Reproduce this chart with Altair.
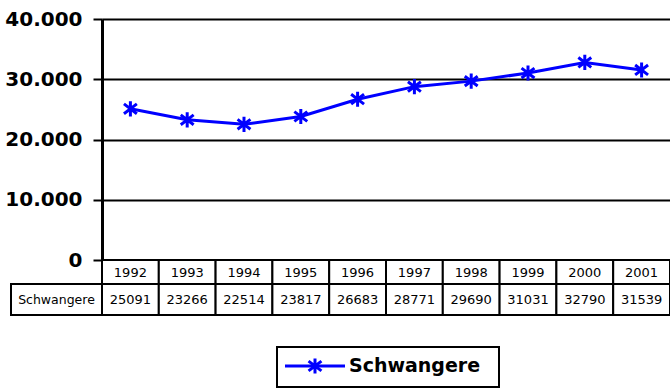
import altair as alt
import pandas as pd

# Jahrgänge und Anzahl der Schwangeren
years = ["1992", "1993", "1994", "1995", "1996", "1997", "1998", "1999", "2000", "2001"]
schwangere = [25091, 23266, 22514, 23817, 26683, 28771, 29690, 31031, 32790, 31539]
series_name = "Schwangere"
y_ticks = [0, 10000, 20000, 30000, 40000]

BLUE = "#0000FF"
W, H = 568, 241
ASTERISK = "M0,-1L0,1M-0.85,-0.65L0.85,0.65M-0.85,0.65L0.85,-0.65"
TABLE_FONT = "DejaVu Sans"

df = pd.DataFrame({"Jahr": years, "Wert": schwangere})
label_df = pd.DataFrame({"name": [series_name]})

x_band = alt.Scale(type="band", paddingInner=0, paddingOuter=0, domain=years)
x_cell = alt.X("Jahr:N", scale=x_band, axis=None)
x_mid = alt.X("Jahr:N", scale=x_band, axis=None, bandPosition=0.5)

y_enc = alt.Y(
    "Wert:Q",
    scale=alt.Scale(domain=[0, 40000], nice=False, zero=True),
    axis=alt.Axis(
        values=y_ticks,
        title=None,
        grid=True,
        gridColor="black",
        gridWidth=2,
        gridOpacity=1,
        domain=True,
        domainColor="black",
        domainWidth=3,
        ticks=True,
        tickColor="black",
        tickWidth=2,
        tickSize=9,
        labelFont="DejaVu Sans",
        labelFontWeight="bold",
        labelFontSize=20,
        labelColor="black",
        labelPadding=11,
        labelExpr="datum.value == 0 ? '0' : format(datum.value / 1000, 'd') + '.000'",
    ),
)

base = alt.Chart(df)

line = base.mark_line(color=BLUE, strokeWidth=3).encode(x=x_mid, y=y_enc)
points = base.mark_point(
    shape=ASTERISK, size=230, filled=False, stroke=BLUE, strokeWidth=3, opacity=1
).encode(x=x_mid, y="Wert:Q")

# Datentabelle unter dem Diagramm
year_cells = base.mark_rect(fill="white", stroke="black", strokeWidth=2).encode(
    x=x_cell, y=alt.value(241), y2=alt.value(265)
)
value_cells = base.mark_rect(fill="white", stroke="black", strokeWidth=2).encode(
    x=x_cell, y=alt.value(265), y2=alt.value(296)
)
year_text = base.mark_text(font=TABLE_FONT, fontSize=13, color="black", baseline="middle").encode(
    x=x_mid, y=alt.value(253.5), text="Jahr:N"
)
value_text = base.mark_text(font=TABLE_FONT, fontSize=13, color="black", baseline="middle").encode(
    x=x_mid, y=alt.value(281), text="Wert:Q"
)
name_cell = alt.Chart(label_df).mark_rect(fill="white", stroke="black", strokeWidth=2).encode(
    x=alt.value(-91), x2=alt.value(0), y=alt.value(265), y2=alt.value(296)
)
name_text = alt.Chart(label_df).mark_text(
    font=TABLE_FONT, fontSize=12.5, color="black", baseline="middle", align="center"
).encode(x=alt.value(-45.5), y=alt.value(281), text="name:N")

# Legende
legend_box = alt.Chart(label_df).mark_rect(fill="white", stroke="black", strokeWidth=2).encode(
    x=alt.value(175), x2=alt.value(397), y=alt.value(328), y2=alt.value(368)
)
legend_line = alt.Chart(label_df).mark_rule(color=BLUE, strokeWidth=3).encode(
    x=alt.value(183), x2=alt.value(243), y=alt.value(347)
)
legend_mark = alt.Chart(label_df).mark_point(
    shape=ASTERISK, size=230, filled=False, stroke=BLUE, strokeWidth=3, opacity=1
).encode(x=alt.value(213), y=alt.value(347))
legend_text = alt.Chart(label_df).mark_text(
    font="DejaVu Sans", fontSize=19, fontWeight="bold", color="black", align="left", baseline="middle"
).encode(x=alt.value(247), y=alt.value(347), text="name:N")

chart = (
    alt.layer(
        line, points,
        year_cells, value_cells, year_text, value_text, name_cell, name_text,
        legend_box, legend_line, legend_mark, legend_text,
    )
    .properties(
        width=W,
        height=H,
        autosize=alt.AutoSizeParams(type="none"),
        padding={"left": 102, "top": 19, "right": 0, "bottom": 129},
        background="white",
    )
    .configure_view(stroke=None)
)

chart.save("out.html", embed_options={"renderer": "svg", "actions": False})
